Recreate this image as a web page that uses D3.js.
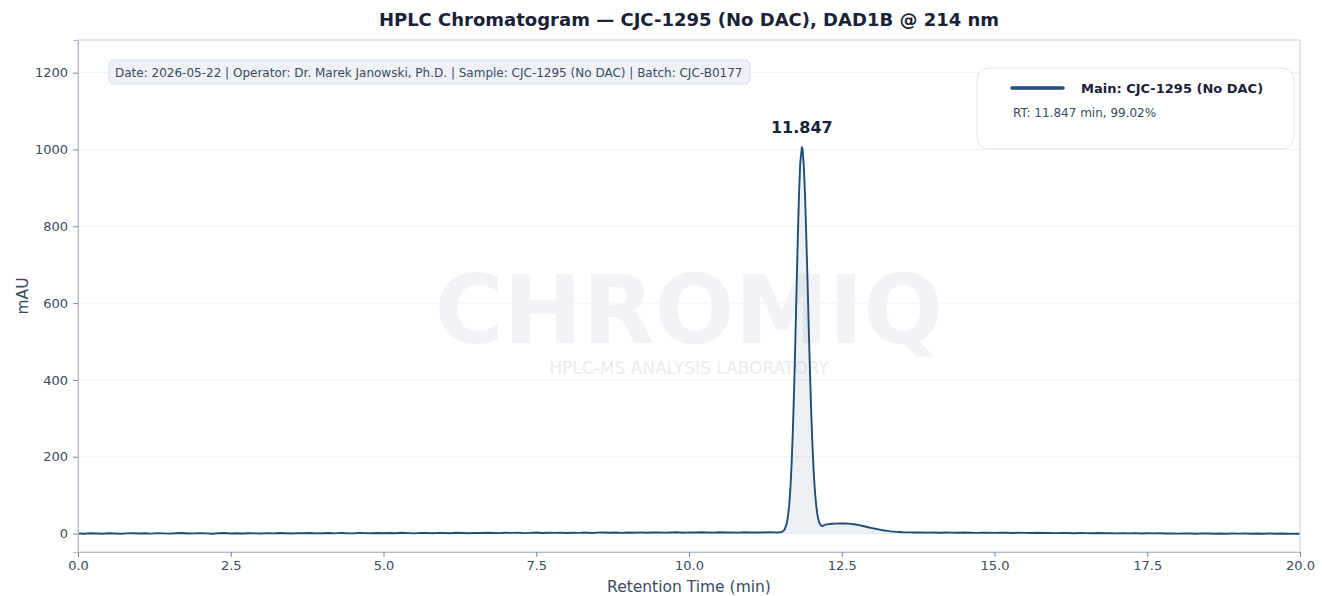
<!DOCTYPE html>
<html><head><meta charset="utf-8">
<script src="https://cdn.jsdelivr.net/npm/d3@7"></script>
<style>
html,body{margin:0;padding:0;background:#fff;}
text{font-family:"DejaVu Sans",sans-serif;}
</style></head>
<body><svg id="c" width="1322" height="596"></svg>
<script>
// ---- data ----
const title = "HPLC Chromatogram — CJC-1295 (No DAC), DAD1B @ 214 nm";
const infoText = "Date: 2026-05-22 | Operator: Dr. Marek Janowski, Ph.D. | Sample: CJC-1295 (No DAC) | Batch: CJC-B0177";
const legendLabel = "Main: CJC-1295 (No DAC)";
const legendSub = "RT: 11.847 min, 99.02%";
const peakRT = 11.847;
const peakLabel = "11.847";
const xTicks = [0, 2.5, 5, 7.5, 10, 12.5, 15, 17.5, 20];
const yTicks = [0, 200, 400, 600, 800, 1000, 1200];

// baseline 0.0 – 11.3 min, sampled every 0.1 min
const baselineEarly = [
 0.3,-0.6,0.8,0.1,-0.4,0.9,0.2,-0.3,0.6,1.0,0.0,
 0.7,-0.2,1.1,0.4,-0.1,0.9,1.3,0.2,0.6,1.2,
 0.5,-0.3,0.8,1.4,0.3,0.9,0.1,1.0,0.6,0.2,
 1.1,0.4,1.5,0.7,0.0,1.2,0.8,1.6,0.5,0.9,
 1.3,0.6,1.8,0.9,0.4,1.5,1.1,0.7,1.6,1.0,
 1.4,0.8,2.0,1.2,0.6,1.7,1.3,0.9,1.9,1.4,
 1.0,2.1,1.5,0.8,1.9,1.3,2.2,1.6,1.1,2.0,
 1.7,2.4,1.2,1.9,2.6,1.5,2.1,1.8,2.5,1.4,
 2.2,1.9,2.7,1.6,2.4,2.9,2.0,2.6,1.8,2.8,
 2.3,3.0,2.1,2.7,3.2,2.4,2.9,3.4,2.2,3.0,
 2.6,3.3,2.8,2.4,3.5,2.9,3.1,2.5,3.4,2.8,
 3.2,2.7,3.3];
// main peak and shoulder
const peakTimes = [11.40,11.44,11.48,11.52,11.56,11.60,11.62,11.64,11.66,11.68,11.70,11.72,11.74,11.76,11.78,11.80,11.82,11.847,11.86,11.88,11.90,11.92,11.94,11.96,11.98,12.00,12.02,12.04,12.06,12.08,12.10,12.12,12.14,12.16,12.18,
 12.22,12.26,12.30,12.35,12.40,12.45,12.50,12.55,12.60,12.65,12.70,12.75,12.80,12.85,12.90,12.95,13.00,13.05,13.10,13.15,13.20,13.25,13.30,13.35,13.40,13.45,13.50];
const peakValues = [3.1,2.8,3.4,4.2,9,26,45,74,119,183,268,374,499,633,765,880,964,1006,1000,955,877,773,656,535,420,317,231,163,112,76,51,35,26,21,19,
 22.5,24.0,24.8,25.6,25.9,26.4,26.2,26.6,25.9,25.2,24.3,22.9,21.4,19.6,17.8,15.9,14.2,12.4,10.9,9.3,8.0,6.9,5.8,5.1,4.4,3.9,3.5];
// baseline 13.6 – 20.0 min, sampled every 0.1 min
const baselineLate = [
 3.1,2.6,3.0,2.4,2.8,2.2,2.7,2.5,2.0,2.6,
 2.3,1.9,2.5,2.1,1.7,2.4,2.0,1.6,2.2,1.8,
 1.5,2.1,1.4,1.9,1.2,1.7,1.3,0.9,1.6,1.1,
 0.8,1.4,0.7,1.2,0.5,1.0,0.6,1.1,0.3,0.8,
 0.4,0.9,0.1,0.6,-0.2,0.5,0.2,-0.4,0.4,0.0,
 -0.3,0.3,-0.5,0.1,-0.2,0.4,-0.6,0.0,-0.3,0.2,
 -0.4,0.1,-0.5,-0.1,-0.3];

const data = [];
baselineEarly.forEach((v,i)=>data.push({t:+(i*0.1).toFixed(2), v}));
peakTimes.forEach((t,i)=>data.push({t, v:peakValues[i]}));
baselineLate.forEach((v,i)=>data.push({t:+(13.6+i*0.1).toFixed(2), v}));

// ---- layout ----
const svg = d3.select("#c");
const W=1322,H=596;
const m={l:78,r:22,t:40,b:44};
const iw=W-m.l-m.r, ih=H-m.t-m.b;
const x=d3.scaleLinear().domain([0,20]).range([m.l,m.l+iw]);
const y=d3.scaleLinear().domain([-48,1285]).range([m.t+ih,m.t]);
const cx = m.l+iw/2;

const textCol="#3b4a5e", darkCol="#1a2238", lineCol="#1f4e79";

svg.append("text").attr("x",cx).attr("y",26).attr("text-anchor","middle")
 .attr("font-size",18).attr("font-weight","bold").attr("fill",darkCol).text(title);

// grid
svg.append("g").selectAll("line").data(yTicks).join("line")
 .attr("x1",m.l).attr("x2",m.l+iw).attr("y1",d=>y(d)).attr("y2",d=>y(d))
 .attr("stroke","#eef0f4").attr("stroke-width",1);

// watermark
svg.append("text").attr("x",cx).attr("y",343).attr("text-anchor","middle")
 .attr("font-size",94).attr("font-weight","bold").attr("fill","#f2f3f6").text("CHROMIQ");
svg.append("text").attr("x",cx).attr("y",374).attr("text-anchor","middle")
 .attr("font-size",17).attr("fill","#e9ecf1").text("HPLC-MS ANALYSIS LABORATORY");

// area + line
svg.append("clipPath").attr("id","cp").append("rect")
 .attr("x",m.l).attr("y",m.t).attr("width",iw).attr("height",ih);
const g = svg.append("g").attr("clip-path","url(#cp)");
g.append("path").datum(data)
 .attr("d",d3.area().x(d=>x(d.t)).y0(y(0)).y1(d=>y(d.v)))
 .attr("fill",lineCol).attr("fill-opacity",0.08);
g.append("path").datum(data)
 .attr("d",d3.line().x(d=>x(d.t)).y(d=>y(d.v)))
 .attr("fill","none").attr("stroke",lineCol).attr("stroke-width",1.9).attr("stroke-linejoin","round");

// frame
svg.append("rect").attr("x",m.l).attr("y",m.t).attr("width",iw).attr("height",ih)
 .attr("fill","none").attr("stroke","#c5ccd9").attr("stroke-width",1);

// axes
const xa = svg.append("g").attr("transform",`translate(0,${m.t+ih})`)
 .call(d3.axisBottom(x).tickValues(xTicks).tickFormat(d3.format(".1f")).tickSize(5).tickPadding(4));
const ya = svg.append("g").attr("transform",`translate(${m.l},0)`)
 .call(d3.axisLeft(y).tickValues(yTicks).tickFormat(d3.format("d")).tickSize(5).tickPadding(5));
[xa,ya].forEach(a=>{
 a.select(".domain").attr("stroke","#b3bccb");
 a.selectAll(".tick line").attr("stroke","#7c8799");
 a.selectAll(".tick text").attr("font-size",13).attr("fill",textCol).attr("font-family","DejaVu Sans");
});

svg.append("text").attr("x",x(10)).attr("y",592).attr("text-anchor","middle")
 .attr("font-size",15.5).attr("fill",textCol).text("Retention Time (min)");
svg.append("text").attr("transform",`translate(28,${m.t+ih/2}) rotate(-90)`).attr("text-anchor","middle")
 .attr("font-size",15.5).attr("fill",textCol).text("mAU");

// peak label
svg.append("text").attr("x",x(peakRT)).attr("y",y(1006)-14).attr("text-anchor","middle")
 .attr("font-size",16).attr("font-weight","bold").attr("fill",darkCol).text(peakLabel);

// info box
const info = svg.append("g");
info.append("rect").attr("x",109).attr("y",60).attr("width",641).attr("height",24).attr("rx",5)
 .attr("fill","#eef2f7").attr("stroke","#d5dde8");
info.append("text").attr("x",115).attr("y",76.5).attr("font-size",12).attr("fill",textCol).text(infoText);

// legend
const lg = svg.append("g");
lg.append("rect").attr("x",977).attr("y",68).attr("width",317).attr("height",81).attr("rx",12)
 .attr("fill","#fff").attr("stroke","#dfe4ea");
lg.append("line").attr("x1",1012).attr("x2",1063).attr("y1",88).attr("y2",88)
 .attr("stroke",lineCol).attr("stroke-width",3.5).attr("stroke-linecap","round");
lg.append("text").attr("x",1081).attr("y",92.5).attr("font-size",13).attr("font-weight","bold")
 .attr("fill",darkCol).text(legendLabel);
lg.append("text").attr("x",1013).attr("y",117).attr("font-size",12).attr("fill",textCol).text(legendSub);
</script></body></html>
